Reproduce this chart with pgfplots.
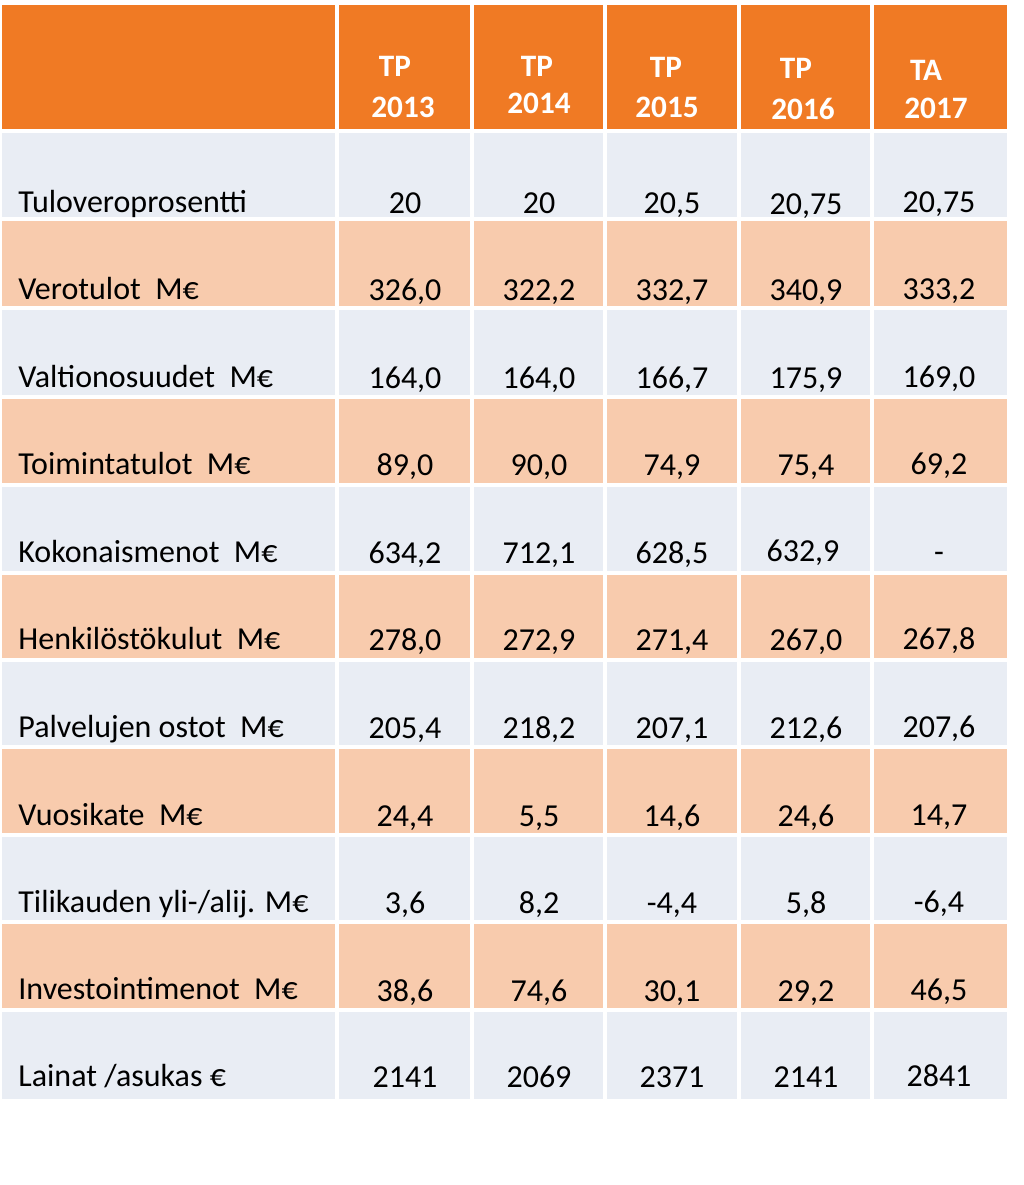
\documentclass[border=0pt]{standalone}
\usepackage{fontspec}
\setmainfont{Carlito}
\usepackage{pgfplots}
\pgfplotsset{compat=1.18}
\definecolor{hdr}{RGB}{240,122,36}
\definecolor{peach}{RGB}{248,203,173}
\definecolor{light}{RGB}{233,237,244}
\begin{document}
\begin{tikzpicture}
\begin{axis}[
  width=512pt, height=592.5pt, scale only axis,
  xmin=0, xmax=1024, ymin=0, ymax=1185, y dir=reverse,
  hide axis, clip=false,
  every node near coord/.append style={font=\fontsize{16}{19}\selectfont, inner sep=0pt, text=black},
]
\path (axis cs:0,0) rectangle (axis cs:1024,1185);
% row backgrounds
\fill[hdr]   (axis cs:2,5)    rectangle (axis cs:1007,131);
\fill[light] (axis cs:2,131)  rectangle (axis cs:1007,219);
\fill[peach] (axis cs:2,219)  rectangle (axis cs:1007,308);
\fill[light] (axis cs:2,308)  rectangle (axis cs:1007,397);
\fill[peach] (axis cs:2,397)  rectangle (axis cs:1007,485);
\fill[light] (axis cs:2,485)  rectangle (axis cs:1007,573);
\fill[peach] (axis cs:2,573)  rectangle (axis cs:1007,660);
\fill[light] (axis cs:2,660)  rectangle (axis cs:1007,747);
\fill[peach] (axis cs:2,747)  rectangle (axis cs:1007,835);
\fill[light] (axis cs:2,835)  rectangle (axis cs:1007,922);
\fill[peach] (axis cs:2,922)  rectangle (axis cs:1007,1010);
\fill[light] (axis cs:2,1010) rectangle (axis cs:1007,1099);
% white grid lines
\draw[white, line width=1.6pt] (axis cs:337,5) -- (axis cs:337,1099);
\draw[white, line width=1.6pt] (axis cs:472,5) -- (axis cs:472,1099);
\draw[white, line width=1.6pt] (axis cs:605,5) -- (axis cs:605,1099);
\draw[white, line width=1.6pt] (axis cs:739,5) -- (axis cs:739,1099);
\draw[white, line width=1.6pt] (axis cs:872,5) -- (axis cs:872,1099);
\draw[white, line width=1.6pt] (axis cs:2,131) -- (axis cs:1007,131);
\draw[white, line width=1.6pt] (axis cs:2,219) -- (axis cs:1007,219);
\draw[white, line width=1.6pt] (axis cs:2,308) -- (axis cs:1007,308);
\draw[white, line width=1.6pt] (axis cs:2,397) -- (axis cs:1007,397);
\draw[white, line width=1.6pt] (axis cs:2,485) -- (axis cs:1007,485);
\draw[white, line width=1.6pt] (axis cs:2,573) -- (axis cs:1007,573);
\draw[white, line width=1.6pt] (axis cs:2,660) -- (axis cs:1007,660);
\draw[white, line width=1.6pt] (axis cs:2,747) -- (axis cs:1007,747);
\draw[white, line width=1.6pt] (axis cs:2,835) -- (axis cs:1007,835);
\draw[white, line width=1.6pt] (axis cs:2,922) -- (axis cs:1007,922);
\draw[white, line width=1.6pt] (axis cs:2,1010) -- (axis cs:1007,1010);

% header text
\addplot[only marks, mark=none, point meta=explicit symbolic, nodes near coords,
  nodes near coords align={anchor=base},
  every node near coord/.append style={font=\fontsize{15.6}{19}\selectfont\bfseries, text=white}]
coordinates {
 (395,76) [TP]  (403,117) [2013]
 (537,76) [TP]  (539,113) [2014]
 (666,77) [TP]  (667,117) [2015]
 (796,78) [TP]  (803,119) [2016]
 (926,80) [TA]  (936,118) [2017]
};

% row labels
\addplot[only marks, mark=none, point meta=explicit symbolic, nodes near coords,
  nodes near coords align={anchor=base west}]
coordinates {
 (18,212)  [Tuloveroprosentti]
 (18,299)  [Verotulot\ \ M€]
 (18,387)  [Valtionosuudet\ \ M€]
 (18,474)  [Toimintatulot\ \ M€]
 (18,562)  [Kokonaismenot\ \ M€]
 (18,649)  [Henkilöstökulut\ \ M€]
 (18,737)  [Palvelujen ostot\ \ M€]
 (18,825)  [Vuosikate\ \ M€]
 (18,912)  [Tilikauden yli-/alij. M€]
 (18,999)  [Investointimenot\ \ M€]
 (18,1086) [Lainat /asukas €]
};

% values
\addplot[only marks, mark=none, point meta=explicit symbolic, nodes near coords,
  nodes near coords align={anchor=base}]
coordinates {
 (405,213) [20]    (539,213) [20]    (672,213) [20,5]  (806,214) [20,75] (939,212) [20,75]
 (405,300) [326,0] (539,300) [322,2] (672,300) [332,7] (806,300) [340,9] (939,299) [333,2]
 (405,388) [164,0] (539,388) [164,0] (672,388) [166,7] (806,388) [175,9] (939,387) [169,0]
 (405,475) [89,0]  (539,475) [90,0]  (672,475) [74,9]  (806,475) [75,4]  (939,474) [69,2]
 (405,563) [634,2] (539,563) [712,1] (672,563) [628,5] (803,561) [632,9] (939,562) [-]
 (405,650) [278,0] (539,650) [272,9] (672,650) [271,4] (806,650) [267,0] (939,649) [267,8]
 (405,738) [205,4] (539,738) [218,2] (672,738) [207,1] (806,738) [212,6] (939,737) [207,6]
 (405,826) [24,4]  (539,826) [5,5]   (672,826) [14,6]  (806,826) [24,6]  (939,825) [14,7]
 (405,913) [3,6]   (539,913) [8,2]   (672,913) [-4,4]  (806,913) [5,8]   (939,912) [-6,4]
 (405,1001) [38,6] (539,1001) [74,6] (672,1001) [30,1] (806,1001) [29,2] (939,1000) [46,5]
 (405,1087) [2141] (539,1087) [2069] (672,1087) [2371] (806,1087) [2141] (939,1086) [2841]
};
\end{axis}
\end{tikzpicture}
\end{document}
